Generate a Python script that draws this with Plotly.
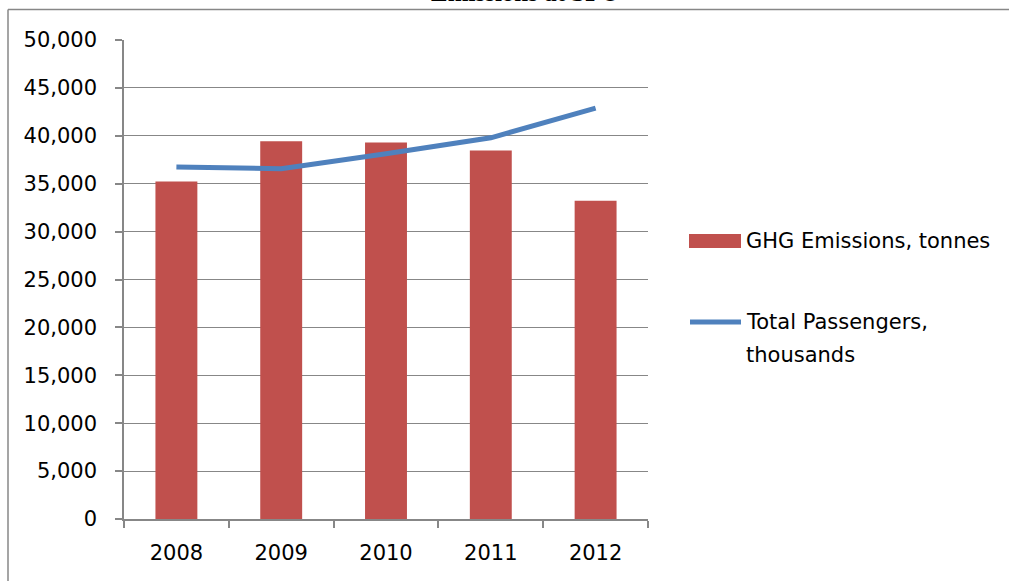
import plotly.graph_objects as go

# Annual figures for San Francisco International Airport
years = ["2008", "2009", "2010", "2011", "2012"]
ghg_emissions_tonnes = [35240, 39440, 39300, 38470, 33230]
passengers_thousands = [36740, 36560, 38130, 39790, 42880]

y_tick_vals = [0, 5000, 10000, 15000, 20000, 25000, 30000, 35000, 40000, 45000, 50000]

BAR_RED = "#C0504D"
LINE_BLUE = "#4F81BD"
GRID = "#878787"
FONT = "DejaVu Sans"

W, H = 1009, 581
L, R, T, B = 124, 361, 40, 62
PW, PH = W - L - R, H - T - B


def px_x(x):
    return (x - L) / PW


def px_y(y):
    return (H - B - y) / PH


fig = go.Figure()
fig.add_trace(go.Bar(
    x=years, y=ghg_emissions_tonnes, name="GHG Emissions, tonnes",
    marker=dict(color=BAR_RED, line=dict(width=0)), showlegend=False,
))
fig.add_trace(go.Scatter(
    x=years, y=passengers_thousands, name="Total Passengers, thousands",
    mode="lines", line=dict(color=LINE_BLUE, width=5), showlegend=False,
))

shapes = [
    # chart frame
    dict(type="line", xref="paper", yref="paper", x0=px_x(8), x1=px_x(1012),
         y0=px_y(9.5), y1=px_y(9.5), line=dict(color=GRID, width=1.5)),
    dict(type="line", xref="paper", yref="paper", x0=px_x(8), x1=px_x(8),
         y0=px_y(9.5), y1=px_y(590), line=dict(color=GRID, width=1.5)),
    # legend swatches
    dict(type="rect", xref="paper", yref="paper", x0=px_x(689), x1=px_x(741),
         y0=px_y(248), y1=px_y(234), fillcolor=BAR_RED, line=dict(width=0)),
    dict(type="line", xref="paper", yref="paper", x0=px_x(690), x1=px_x(741),
         y0=px_y(322), y1=px_y(322), line=dict(color=LINE_BLUE, width=5)),
]

legend_font = dict(family=FONT, size=21, color="#000000")
annotations = [
    dict(text="<b>Emissions at SFO</b>", xref="paper", yref="paper",
         x=px_x(525), y=px_y(8), xanchor="center", yanchor="bottom",
         showarrow=False, font=dict(family="Liberation Serif", size=25, color="#000000")),
    dict(text="GHG Emissions, tonnes", xref="paper", yref="paper",
         x=px_x(744), y=px_y(241), xanchor="left", yanchor="middle",
         showarrow=False, font=legend_font),
    dict(text="Total Passengers,", xref="paper", yref="paper",
         x=px_x(744), y=px_y(322), xanchor="left", yanchor="middle",
         showarrow=False, font=legend_font),
    dict(text="thousands", xref="paper", yref="paper",
         x=px_x(744), y=px_y(355), xanchor="left", yanchor="middle",
         showarrow=False, font=legend_font),
]

fig.update_layout(
    width=W, height=H,
    margin=dict(l=L, r=R, t=T, b=B, pad=0),
    paper_bgcolor="white", plot_bgcolor="white",
    bargap=0.6,
    showlegend=False,
    shapes=shapes,
    annotations=annotations,
    font=dict(family=FONT, size=21, color="#000000"),
)
fig.update_xaxes(
    type="category", showgrid=False, showline=True, linecolor=GRID, linewidth=1.5,
    ticks="outside", tickson="boundaries", ticklen=7, tickcolor=GRID, tickwidth=1.5,
    ticklabelstandoff=14, tickfont=dict(family=FONT, size=21, color="#000000"),
)
fig.update_yaxes(
    range=[0, 50000], tickvals=y_tick_vals, tickformat=",d",
    showgrid=True, gridcolor=GRID, gridwidth=1.2, zeroline=False,
    showline=True, linecolor=GRID, linewidth=1.5,
    ticks="outside", ticklen=7, tickcolor=GRID, tickwidth=1.5,
    ticklabelstandoff=14, tickfont=dict(family=FONT, size=21, color="#000000"),
)

fig.write_html("out.html")
